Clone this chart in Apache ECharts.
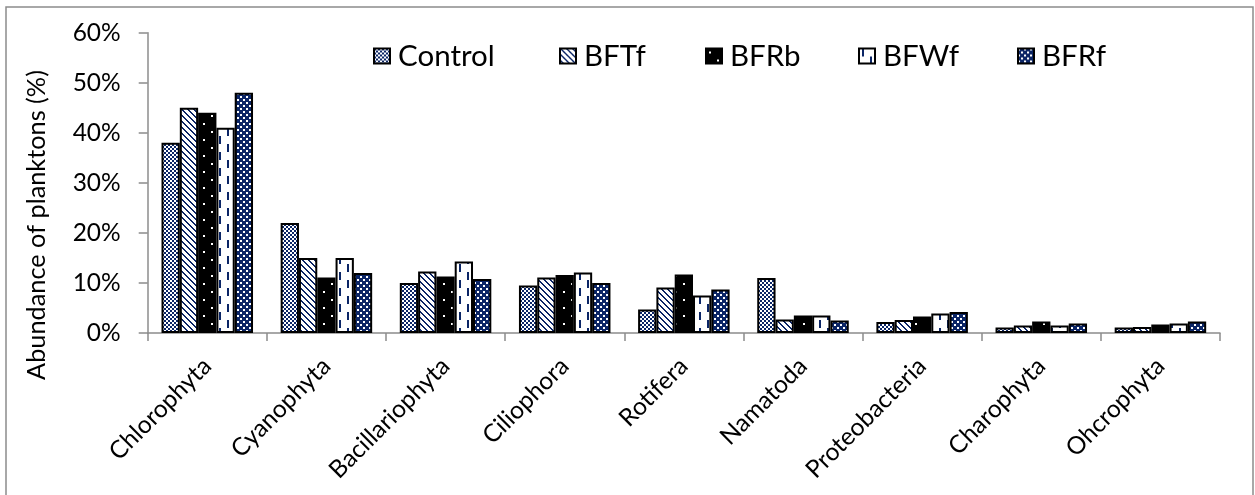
<!DOCTYPE html>
<html>
<head>
<meta charset="utf-8">
<script src="https://cdn.jsdelivr.net/npm/echarts@6/dist/echarts.min.js"></script>
<style>
html,body{margin:0;padding:0;background:#fff;}
#chart{width:1255px;height:495px;}
</style>
</head>
<body>
<div id="chart"></div>
<script>
const categories = ['Chlorophyta','Cyanophyta','Bacillariophyta','Ciliophora','Rotifera','Namatoda','Proteobacteria','Charophyta','Ohcrophyta'];
const control = [38, 22, 10, 9.5, 4.7, 11, 2.2, 1.1, 1.1];
const bftf    = [45, 15, 12.3, 11.1, 9.1, 2.7, 2.6, 1.5, 1.2];
const bfrb    = [44, 11.1, 11.3, 11.6, 11.7, 3.5, 3.3, 2.3, 1.7];
const bfwf    = [41, 15, 14.3, 12.1, 7.5, 3.5, 3.9, 1.5, 1.9];
const bfrf    = [48, 12, 10.8, 10, 8.7, 2.5, 4.2, 1.9, 2.3];
const seriesNames = ['Control','BFTf','BFRb','BFWf','BFRf'];
const yTicks = [0, 10, 20, 30, 40, 50, 60];

const NAVY = '#0b2566';
function makePattern(w, h, draw) {
  const c = document.createElement('canvas');
  c.width = w; c.height = h;
  const ctx = c.getContext('2d');
  draw(ctx);
  return { image: c, repeat: 'repeat' };
}
const patControl = makePattern(4, 4, ctx => {
  ctx.fillStyle = '#fff'; ctx.fillRect(0,0,4,4);
  ctx.fillStyle = NAVY; ctx.fillRect(0,0,2,2); ctx.fillRect(2,2,2,2);
});
const patBFTf = makePattern(6, 6, ctx => {
  ctx.fillStyle = '#fff'; ctx.fillRect(0,0,6,6);
  ctx.fillStyle = NAVY;
  for (let y = 0; y < 6; y++) for (let x = 0; x < 6; x++) {
    const d = ((x - y) % 6 + 6) % 6;
    if (d === 0 || d === 1) ctx.fillRect(x, y, 1, 1);
  }
});
const patBFRb = makePattern(16, 16, ctx => {
  ctx.fillStyle = '#000'; ctx.fillRect(0,0,16,16);
  ctx.fillStyle = '#fff'; ctx.fillRect(3,3,2,2); ctx.fillRect(11,11,2,2);
});
const patBFWf = makePattern(16, 16, ctx => {
  ctx.fillStyle = '#fff'; ctx.fillRect(0,0,16,16);
  ctx.fillStyle = NAVY; ctx.fillRect(3,0,2,8); ctx.fillRect(11,8,2,8);
});
const patBFRf = makePattern(6, 6, ctx => {
  ctx.fillStyle = NAVY; ctx.fillRect(0,0,6,6);
  ctx.fillStyle = '#fff'; ctx.fillRect(0,0,2,2); ctx.fillRect(3,3,2,2);
});
const patterns = [patControl, patBFTf, patBFRb, patBFWf, patBFRf];
const values = [control, bftf, bfrb, bfwf, bfrf];

const FONT = 'Lato';
const legendLefts = [373, 559, 705, 858, 1017];
const chart = echarts.init(document.getElementById('chart'), null, {renderer: 'canvas'});
const option = {
  animation: false,
  backgroundColor: '#fff',
  legend: seriesNames.map((n, i) => ({
    left: legendLefts[i], top: 40, padding: 0,
    itemWidth: 16, itemHeight: 15,
    icon: 'rect',
    textStyle: { fontFamily: FONT, fontSize: 29.5, color: '#000', lineHeight: 32, padding: [0, 0, 0, 3] },
    data: [n]
  })),
  grid: { left: 147.7, right: 35, top: 32.7, bottom: 162, containLabel: false },
  xAxis: {
    type: 'category',
    data: categories,
    axisLine: { lineStyle: { color: '#8c8c8c', width: 1.5 } },
    axisTick: { show: true, length: 8, lineStyle: { color: '#8c8c8c', width: 1.5 } },
    axisLabel: { rotate: 45, margin: 29, fontFamily: FONT, fontSize: 24.5, color: '#000', interval: 0 },
    splitLine: { show: false }
  },
  yAxis: {
    type: 'value',
    min: yTicks[0], max: yTicks[yTicks.length-1], interval: 10,
    axisLine: { show: true, lineStyle: { color: '#8c8c8c', width: 1.5 } },
    axisTick: { show: true, length: 9, lineStyle: { color: '#8c8c8c', width: 1.5 } },
    axisLabel: { margin: 27, fontFamily: FONT, fontSize: 24.5, color: '#000', formatter: '{value}%' },
    splitLine: { show: false }
  },
  graphic: [
    { type: 'rect', silent: true, z: -1,
      shape: { x: 6, y: 7, width: 1247, height: 600 },
      style: { fill: 'none', stroke: '#8c8c8c', lineWidth: 1.5 } },
    { type: 'text', x: 37, y: 225, rotation: Math.PI / 2,
      style: { text: 'Abundance of planktons (%)', fontFamily: FONT, fontSize: 25.3, fill: '#000',
               align: 'center', verticalAlign: 'middle', textAlign: 'center', textVerticalAlign: 'middle' } }
  ],
  series: seriesNames.map((n, i) => ({
    name: n,
    type: 'bar',
    data: values[i],
    barWidth: 18.3,
    barGap: '0%',
    itemStyle: { color: patterns[i], borderColor: '#000', borderWidth: 2 }
  }))
};
chart.setOption(option);
</script>
</body>
</html>
